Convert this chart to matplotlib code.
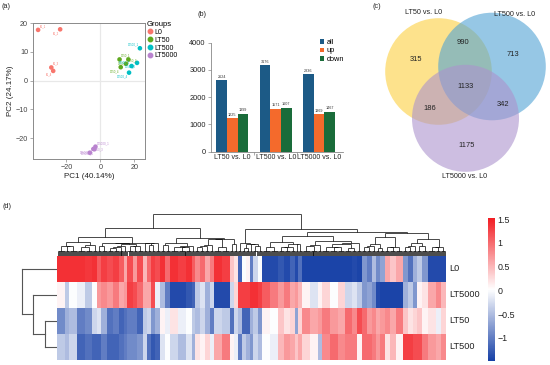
import numpy as np
import matplotlib
matplotlib.use('Agg')
import matplotlib.pyplot as plt
from matplotlib.colors import LinearSegmentedColormap, Normalize
from matplotlib.patches import Circle
from matplotlib.collections import LineCollection
from matplotlib.lines import Line2D

plt.rcParams['font.family'] = ['Liberation Sans', 'DejaVu Sans']
plt.rcParams['axes.unicode_minus'] = True

W, H = 550, 365
fig = plt.figure(figsize=(W / 100, H / 100), dpi=100)


def rect(x0, y0, x1, y1):
    return [x0 / W, 1 - y1 / H, (x1 - x0) / W, (y1 - y0) / H]


# ------------------------------------------------------------------ data
# (a) PCA
pca_groups = ['L0', 'LT50', 'LT500', 'LT5000']
pca_colors = ['#F8766D', '#5FA91E', '#00BFC4', '#B983CF']
pc1_L0 = [-36.7, -23.7, -28.9, -27.8]
pc2_L0 = [17.7, 17.9, 4.6, 3.4]
pc1_LT50 = [11.3, 16.5, 15.1, 12.0]
pc2_LT50 = [7.4, 7.4, 5.9, 4.7]
pc1_LT500 = [23.3, 21.6, 18.4, 16.9]
pc2_LT500 = [11.3, 6.2, 5.1, 2.8]
pc1_LT5000 = [-2.9, -4.1, -6.2, -3.5]
pc2_LT5000 = [-23.0, -23.8, -25.1, -23.9]

# (b) DEG counts
comparisons = ['LT50 vs. L0', 'LT500 vs. L0', 'LT5000 vs. L0']
deg_all = [2624, 3176, 2836]
deg_up = [1225, 1571, 1369]
deg_down = [1399, 1607, 1467]

# (c) Venn region counts (LT50, LT500, LT5000 membership)
venn_sets = ['LT50 vs. L0', 'LT500 vs. L0', 'LT5000 vs. L0']
venn_counts = {'100': 315, '010': 713, '001': 1175,
               '110': 990, '101': 186, '011': 342, '111': 1133}

# (d) heatmap: gene-cluster widths and z-scores per row
hm_rows = ['L0', 'LT5000', 'LT50', 'LT500']
block_width = [8, 4, 8, 8, 7, 5, 4, 6, 6, 6, 5, 3, 6, 4, 6, 4, 4, 4, 5, 5, 5, 8, 8, 6, 3,
               5, 5, 5, 4, 8, 8, 4, 4, 4, 4, 4, 3, 5, 4, 8, 8, 6, 6, 5, 3, 4, 8, 8, 4, 8,
               8, 7, 7, 5, 5, 5, 5, 4, 4, 5, 5, 6, 7, 5, 5, 4, 5, 6, 8, 5, 5]
z_L0 = [1.4, 1.4, 1.4, 1.4, 1.35, 1.4, 1.1, 1.3, 1.2, 1.3, 1.1, 0.6, 1.2, 0.7, 1.2, 0.5,
        1.0, 1.3, 1.2, 1.4, 1.0, 1.4, 1.3, 1.4, 1.1, 0.8, 1.0, 0.6, 0.9, 1.4, 1.3, 0.4,
        0.2, -1.2, 0.0, 0.1, -1.0, -0.3, 0.0, -1.4, -1.4, -1.3, -1.4, -1.2, -1.4, -1.1,
        -1.45, -1.45, -1.45, -1.45, -1.45, -1.45, -1.45, -1.4, -1.45, -0.8, -1.0, -0.5,
        -0.9, -0.7, 0.6, 0.4, 0.6, -0.8, -1.1, -0.6, -0.4, -0.8, -1.4, -1.4, -1.4]
z_LT5000 = [0.1, -0.4, 0.0, -0.1, -0.4, 0.0, 0.7, 0.8, 0.7, 0.9, 0.6, 0.7, 1.3, 1.2, 1.0,
            0.6, 0.6, 1.2, -0.1, -0.5, -1.0, -1.4, -1.4, -1.3, -1.2, -0.4, -0.2, -0.6,
            -0.3, -1.4, -1.4, -0.3, 0.3, 1.3, 1.3, 1.3, 1.4, 1.4, 1.3, 1.1, 0.9, 0.7, 0.9,
            0.6, 0.7, 0.5, 0.1, -0.2, 0.1, 0.3, 0.0, 0.3, -0.3, -0.2, -0.4, -0.8, -0.7,
            -0.9, -1.4, -1.45, -1.45, -1.45, -1.45, -0.6, -0.4, -0.8, 0.1, 0.2, 0.6, 0.8, 0.5]
z_LT50 = [-0.9, -0.6, -0.5, -1.0, -0.9, -0.3, -0.2, -0.6, -1.1, -1.0, -1.2, -1.1, -1.0,
          -1.0, -1.2, -0.4, -0.3, -0.8, -0.6, 0.1, -0.1, 0.2, -0.1, 0.0, -0.4, -0.5, -0.3,
          -0.6, -1.0, -0.3, -0.4, -1.1, -0.3, -0.5, -1.2, -1.2, -0.6, -0.4, -0.8, 0.1, 0.0,
          0.4, 0.2, 0.3, -0.7, 0.3, 0.8, 0.6, 0.7, 0.9, 0.7, 0.6, 1.0, 0.8, 1.2, 1.0, 0.7,
          0.8, 0.6, 0.7, 0.8, 0.6, 0.9, 0.4, 0.2, 0.3, 0.4, 0.1, 0.2, -0.1, 0.3]
z_LT500 = [-0.4, -0.5, -0.3, -1.2, -1.1, -1.2, -1.2, -1.0, -1.2, -1.2, -1.1, -1.0, -0.9,
           -0.9, -0.8, -0.3, -1.1, -1.3, -1.2, -0.2, 0.0, -0.3, -0.5, -0.2, -0.6, 0.2, 0.1,
           0.3, -0.1, 0.6, 0.9, 0.1, -0.1, -1.0, -0.4, -0.6, -0.8, -0.3, -0.5, 0.0, -0.1,
           0.5, 0.7, 0.6, 0.4, 0.6, 0.3, 0.1, -0.5, 0.8, 1.0, 0.8, 0.9, 0.9, 0.1, 1.0, 1.0,
           0.9, 0.7, 0.9, 0.2, 0.5, 0.1, 1.3, 1.3, 1.2, 1.2, 0.9, 0.7, 0.6, 0.8]
# row dendrogram merges: (a, b, height); leaves 0..3 in hm_rows order
row_merges = [(2, 3, 12.0), (1, 4, 24.0), (0, 5, 35.0)]

txt = '#222222'

# ------------------------------------------------------------------ (a) PCA
axa = fig.add_axes(rect(33, 23, 145, 159))
axa.axhline(0, color='#E8E8E8', lw=0.9, zorder=0)
axa.axvline(0, color='#E8E8E8', lw=0.9, zorder=0)
pcs = {'L0': (pc1_L0, pc2_L0), 'LT50': (pc1_LT50, pc2_LT50),
       'LT500': (pc1_LT500, pc2_LT500), 'LT5000': (pc1_LT5000, pc2_LT5000)}
handles = []
for g, col in zip(pca_groups, pca_colors):
    xs, ys = pcs[g]
    axa.scatter(xs, ys, s=11, color=col, edgecolor='none', zorder=3)
    for i, (x, y) in enumerate(zip(xs, ys)):
        right = (i % 2 == 0) and g != 'LT500'
        up = (i % 2 == 0)
        axa.text(x + (0.8 if right else -0.8), y + (0.6 if up else -0.6),
                 f'{g}_{i + 1}', fontsize=2.0, color=col,
                 ha='left' if right else 'right', va='bottom' if up else 'top',
                 zorder=4)
    handles.append(Line2D([], [], marker='o', ls='none', color=col, markersize=3.2))
axa.set_xlim(-39.7, 26.3)
axa.set_ylim(-27.3, 20.1)
axa.set_xticks([-20, 0, 20])
axa.set_yticks([-20, -10, 0, 10, 20])
for s in axa.spines.values():
    s.set_color('#8A8A8A')
    s.set_linewidth(0.7)
axa.tick_params(length=2, width=0.5, color='#8A8A8A', labelsize=5.2,
                labelcolor='#444444', pad=1.5)
axa.set_xlabel('PC1 (40.14%)', fontsize=5.8, color=txt, labelpad=1.5)
axa.set_ylabel('PC2 (24.17%)', fontsize=5.8, color=txt, labelpad=1)
axa.legend(handles, pca_groups, title='Groups', loc='upper left',
           bbox_to_anchor=(147 / W, 1 - 21 / H), bbox_transform=fig.transFigure,
           frameon=False, fontsize=5.0, title_fontsize=5.5, handletextpad=0.1,
           labelspacing=0.12, borderpad=0, borderaxespad=0, alignment='left',
           handlelength=1.0)

# ------------------------------------------------------------------ (b) bars
axb = fig.add_axes(rect(210.7, 42.7, 343, 151.7))
xpos = np.arange(1, len(comparisons) + 1)
bw = 0.245
bar_cols = ['#1C5A86', '#F46A2C', '#1A6C3A']
for off, vals, col, lab in zip([-bw, 0, bw], [deg_all, deg_up, deg_down], bar_cols,
                               ['all', 'up', 'down']):
    bars = axb.bar(xpos + off, vals, width=bw, color=col, label=lab)
    for b, v in zip(bars, vals):
        axb.text(b.get_x() + b.get_width() / 2, v + 60, str(v), ha='center',
                 va='bottom', fontsize=2.7, color='#333333')
axb.set_xlim(0.5, 3.55)
axb.set_ylim(0, 4000)
axb.set_yticks([0, 1000, 2000, 3000, 4000])
axb.set_xticks(xpos)
axb.set_xticklabels(comparisons)
axb.set_xticks([1.5, 2.5], minor=True)
axb.tick_params(axis='x', which='major', length=0, labelsize=5.0, labelcolor=txt, pad=2)
axb.tick_params(axis='x', which='minor', length=2, width=0.5, color='#888888')
axb.tick_params(axis='y', length=2, width=0.5, color='#888888', labelsize=5.3,
                labelcolor=txt, pad=1.5)
for k in ['top', 'right']:
    axb.spines[k].set_visible(False)
for k in ['left', 'bottom']:
    axb.spines[k].set_color('#888888')
    axb.spines[k].set_linewidth(0.6)
axb.legend(loc='upper left', bbox_to_anchor=(320 / W, 1 - 39 / H),
           bbox_transform=fig.transFigure, frameon=False, fontsize=5.3,
           handlelength=0.55, handleheight=0.55, handletextpad=0.3, labelspacing=0.2,
           borderpad=0, borderaxespad=0)

# ------------------------------------------------------------------ (c) Venn
axc = fig.add_axes(rect(360, 0, 550, 180))
axc.set_xlim(360, 550)
axc.set_ylim(180, 0)
axc.axis('off')
circ = [((438.5, 71.5), 53.3, '#FCD03F'), ((492.0, 66.5), 53.8, '#50A3D5'),
        ((465.5, 118.3), 53.5, '#AC93CD')]
for (cx, cy), r, col in circ:
    axc.add_patch(Circle((cx, cy), r, facecolor=col, edgecolor='none', alpha=0.6))
gx, gy = np.meshgrid(np.linspace(360, 550, 400), np.linspace(0, 180, 400))
inside = [((gx - cx) ** 2 + (gy - cy) ** 2) <= r ** 2 for (cx, cy), r, _ in circ]
for key, val in venn_counts.items():
    m = np.ones_like(gx, dtype=bool)
    for k, ch in enumerate(key):
        m &= inside[k] if ch == '1' else ~inside[k]
    px, py = gx[m].mean(), gy[m].mean()
    if key.count('1') == 2:
        # push pairwise labels away from the triple-overlap centre
        px += (px - 466) * 0.2
        py += (py - 88) * 0.2
    elif key == '001':
        py += 4
    axc.text(px, py, str(val), ha='center', va='center', fontsize=5.4, color=txt)
axc.text(424, 13, venn_sets[0], ha='center', va='center', fontsize=5.2, color=txt)
axc.text(515, 14, venn_sets[1], ha='center', va='center', fontsize=5.2, color=txt)
axc.text(465, 176, venn_sets[2], ha='center', va='center', fontsize=5.2, color=txt)

# ------------------------------------------------------------------ (d) heatmap
Z = np.array([z_L0, z_LT5000, z_LT50, z_LT500])
edges = np.concatenate([[0], np.cumsum(block_width)])
total = edges[-1]
cmap = LinearSegmentedColormap.from_list('bwr2', ['#1640A6', '#FFFFFF', '#F21C22'])
norm = Normalize(vmin=-1.49, vmax=1.53)
axh = fig.add_axes(rect(57, 256, 446, 359.5))
mesh = axh.pcolormesh(edges, np.arange(len(hm_rows) + 1), Z, cmap=cmap, norm=norm)
axh.set_xlim(0, total)
axh.set_ylim(len(hm_rows), 0)
axh.axis('off')
for i, r in enumerate(hm_rows):
    axh.text(total + 3, i + 0.5, r, ha='left', va='center', fontsize=6.6, color=txt,
             transform=axh.transData, clip_on=False)

# column dendrogram (adjacency-constrained Ward clustering of the clusters)
axd = fig.add_axes(rect(57, 212, 446, 256))
axd.set_xlim(0, total)
axd.set_ylim(0, 44)
axd.axis('off')
comb_h = 5.0
top_h = 42.0
segs = []
for b in range(len(block_width)):
    leaves = np.arange(edges[b], edges[b + 1]) + 0.5
    for lx in leaves:
        segs.append([(lx, 0), (lx, comb_h)])
    segs.append([(leaves[0], comb_h), (leaves[-1], comb_h)])
clusters = [dict(n=float(block_width[b]), c=Z[:, b].astype(float),
                 x=(edges[b] + edges[b + 1]) / 2, h=0.0) for b in range(len(block_width))]
merges = []
while len(clusters) > 1:
    ds = []
    for i in range(len(clusters) - 1):
        a, b = clusters[i], clusters[i + 1]
        ds.append(np.sqrt(2 * a['n'] * b['n'] / (a['n'] + b['n'])) *
                  np.linalg.norm(a['c'] - b['c']))
    i = int(np.argmin(ds))
    a, b = clusters[i], clusters[i + 1]
    h = max(ds[i], a['h'], b['h'])
    merges.append((a['x'], a['h'], b['x'], b['h'], h))
    n = a['n'] + b['n']
    clusters[i:i + 2] = [dict(n=n, c=(a['n'] * a['c'] + b['n'] * b['c']) / n,
                              x=(a['x'] + b['x']) / 2, h=h)]
hmax = max(m[4] for m in merges)


def ymap(h):
    return comb_h + (top_h - comb_h) * (h / hmax) ** 0.6


for xa, ha, xb, hb, h in merges:
    segs.append([(xa, ymap(ha)), (xa, ymap(h))])
    segs.append([(xa, ymap(h)), (xb, ymap(h))])
    segs.append([(xb, ymap(hb)), (xb, ymap(h))])
axd.add_collection(LineCollection(segs, colors='black', linewidths=0.5))

# row dendrogram
axr = fig.add_axes(rect(20, 256, 57, 359.5))
axr.set_xlim(37, 0)
axr.set_ylim(len(hm_rows), 0)
axr.axis('off')
node_y = {i: i + 0.5 for i in range(len(hm_rows))}
node_h = {i: 0.0 for i in range(len(hm_rows))}
nid = len(hm_rows)
for a, b, h in row_merges:
    for c in (a, b):
        axr.plot([node_h[c], h], [node_y[c], node_y[c]], color='#555555', lw=0.8)
    axr.plot([h, h], [node_y[a], node_y[b]], color='#555555', lw=0.8)
    node_y[nid] = (node_y[a] + node_y[b]) / 2
    node_h[nid] = h
    nid += 1

# colorbar
axcb = fig.add_axes(rect(487.7, 217.7, 495, 361))
cb = fig.colorbar(mesh, cax=axcb, ticks=[1.5, 1, 0.5, 0, -0.5, -1])
cb.ax.set_yticklabels(['1.5', '1', '0.5', '0', '\u22120.5', '\u22121'])
cb.outline.set_visible(False)
cb.ax.tick_params(length=0, labelsize=6.4, labelcolor=txt, pad=2)

# panel labels
for lab, x, y in [('(a)', 6, 6), ('(b)', 202, 14), ('(c)', 377, 6), ('(d)', 7, 206)]:
    fig.text(x / W, 1 - y / H, lab, fontsize=5.2, color=txt, ha='center', va='center')

fig.savefig('out.png', dpi=100)
